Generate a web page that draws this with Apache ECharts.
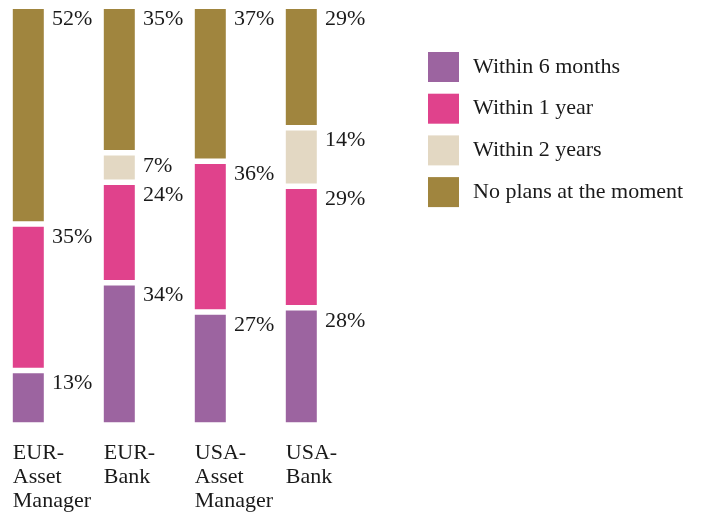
<!DOCTYPE html>
<html><head><meta charset="utf-8">
<script src="https://cdn.jsdelivr.net/npm/echarts@6/dist/echarts.min.js"></script>
<style>html,body{margin:0;padding:0;background:#fff}#c{width:708px;height:513px}</style>
</head><body><div id="c"></div>
<script>
var categories = ['EUR-\nAsset\nManager', 'EUR-\nBank', 'USA-\nAsset\nManager', 'USA-\nBank'];
var seriesNames = ['Within 6 months', 'Within 1 year', 'Within 2 years', 'No plans at the moment'];
var within6Months = [13, 34, 27, 28];
var within1Year = [35, 24, 36, 29];
var within2Years = [0, 7, 0, 14];
var noPlans = [52, 35, 37, 29];
var colors = ['#9C64A0', '#E0428C', '#E3D8C3', '#A0853E'];

var FONT = '"Liberation Serif", "Times New Roman", serif';
var TXT = '#1a1a1a';
var B = 2.75, BW = 31;
var values = [within6Months, within1Year, within2Years, noPlans];

var chart = echarts.init(document.getElementById('c'));
chart.setOption({
  animation: false,
  textStyle: {fontFamily: FONT},
  grid: {left: 28.3, right: 406.7, top: 9 - B, bottom: 513 - 425 - B},
  legend: {
    orient: 'vertical', left: 428, top: 52, padding: 0, icon: 'rect',
    itemWidth: 31, itemHeight: 30, itemGap: 11.7,
    itemStyle: {borderWidth: 0},
    textStyle: {fontFamily: FONT, fontSize: 22, color: TXT, padding: [0, 0, 0, 9]},
    data: seriesNames
  },
  xAxis: {
    type: 'category', data: categories, boundaryGap: false,
    axisLine: {show: false}, axisTick: {show: false},
    axisLabel: {fontFamily: FONT, fontSize: 22, color: TXT, lineHeight: 24, align: 'left',
      margin: 16, padding: [0, 0, 0, -15.5], verticalAlign: 'top', interval: 0}
  },
  yAxis: {type: 'value', min: 0, max: 100, show: false, splitLine: {show: false}},
  series: values.map(function (v, i) {
    return {
      name: seriesNames[i], type: 'bar', stack: 'all', data: v,
      barWidth: BW + 2 * B,
      itemStyle: {color: colors[i], borderColor: '#fff', borderWidth: B},
      label: {
        show: true, position: [BW + 2 * B + 5.5, 2], align: 'left', verticalAlign: 'top',
        fontFamily: FONT, fontSize: 22, color: TXT,
        formatter: function (p) { return p.value ? p.value + '%' : ''; }
      }
    };
  })
});
</script></body></html>
